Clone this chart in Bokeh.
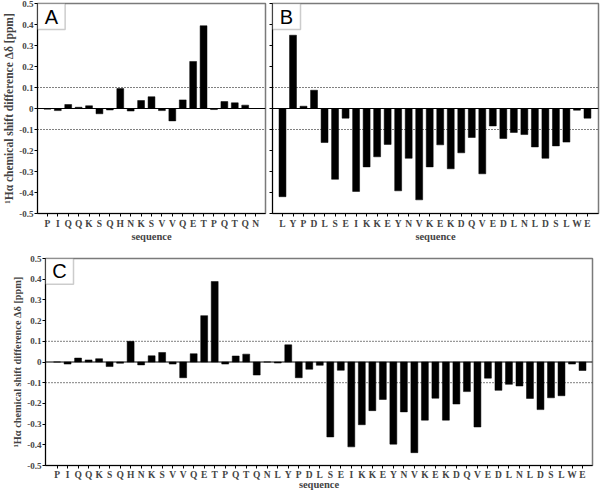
from bokeh.plotting import figure
from bokeh.layouts import column, row
from bokeh.models import (Range1d, FixedTicker, CustomJSTickFormatter, Span,
                          BoxAnnotation, Label, ColumnDataSource)
from bokeh.embed import file_html
from bokeh.resources import INLINE

# ---------------- data ----------------
seq_a = ["P", "I", "Q", "Q", "K", "S", "Q", "H", "N", "K", "S", "V", "V", "Q",
         "E", "T", "P", "Q", "T", "Q", "N"]
shift_a = [-0.003, -0.010, 0.019, 0.006, 0.013, -0.025, -0.007, 0.095, -0.012,
           0.038, 0.056, -0.010, -0.059, 0.041, 0.224, 0.394, -0.005, 0.033,
           0.027, 0.016, 0.0]

seq_b = ["L", "Y", "P", "D", "L", "S", "E", "I", "K", "K", "E", "Y", "N", "V",
         "K", "E", "K", "D", "Q", "V", "E", "D", "L", "N", "L", "D", "S", "L",
         "W", "E"]
shift_b = [-0.420, 0.349, 0.011, 0.087, -0.162, -0.337, -0.046, -0.395, -0.278,
           -0.230, -0.171, -0.392, -0.237, -0.435, -0.278, -0.173, -0.287,
           -0.211, -0.138, -0.311, -0.083, -0.143, -0.114, -0.124, -0.183,
           -0.237, -0.178, -0.160, -0.008, -0.046]

seq_c = seq_a + seq_b
shift_c = [0.0, -0.010, 0.019, 0.010, 0.016, -0.022, -0.006, 0.100, -0.014,
           0.030, 0.046, -0.010, -0.076, 0.040, 0.224, 0.389, -0.010, 0.029,
           0.038, -0.063, 0.0,
           -0.005, 0.083, -0.076, -0.035, -0.016, -0.362, -0.040, -0.410,
           -0.303, -0.235, -0.181, -0.397, -0.241, -0.438, -0.281, -0.175,
           -0.281, -0.203, -0.143, -0.314, -0.078, -0.137, -0.108, -0.116,
           -0.176, -0.230, -0.173, -0.163, -0.010, -0.041]

y_ticks = [-0.5, -0.4, -0.3, -0.2, -0.1, 0.0, 0.1, 0.2, 0.3, 0.4, 0.5]
threshold = 0.1
panel_letters = ["A", "B", "C"]
y_label = "\u00b9H\u03b1 chemical shift difference \u0394\u03b4 [ppm]"
x_label = "sequence"

SERIF = "Liberation Serif"
SANS = "Liberation Sans"


def make_panel(seq, vals, letter, width, height, borders, x_pad, show_ylabels,
               frame_w, frame_h, ylabel_size, xlab_standoff=-1, xtick_standoff=2):
    n = len(seq)
    x0, x1 = -x_pad[0], n - 1 + x_pad[1]
    p = figure(width=width, height=height, output_backend="svg",
               toolbar_location=None, x_range=Range1d(x0, x1),
               y_range=Range1d(-0.5, 0.5))
    p.min_border_left, p.min_border_right, p.min_border_top, p.min_border_bottom = borders
    p.xgrid.visible = False
    p.ygrid.visible = False
    p.outline_line_color = "#7a7a7a"
    p.outline_line_width = 1.5
    p.background_fill_color = "white"
    p.border_fill_color = "white"

    src = ColumnDataSource(dict(x=list(range(n)), v=vals))
    p.vbar(x="x", top="v", bottom=0, width=0.66, source=src,
           fill_color="black", line_color="black", line_width=0.5)

    p.add_layout(Span(location=0, dimension="width", line_color="black",
                      line_width=1.2))
    for loc in (threshold, -threshold):
        p.add_layout(Span(location=loc, dimension="width", line_color="black",
                          line_width=1, line_dash="1 2"))

    # x axis
    xa = p.xaxis[0]
    xa.ticker = FixedTicker(ticks=list(range(n)))
    xa.major_label_overrides = {i: s for i, s in enumerate(seq)}
    xa.major_label_text_font = SERIF
    xa.major_label_text_font_style = "bold"
    xa.major_label_text_font_size = "9.5px"
    xa.major_label_standoff = xtick_standoff
    xa.major_tick_out = 3
    xa.major_tick_in = 0
    xa.minor_tick_line_color = None
    xa.axis_line_color = "black"
    xa.axis_label = x_label
    xa.axis_label_text_font = SERIF
    xa.axis_label_text_font_style = "bold"
    xa.axis_label_text_font_size = "10.5px"
    xa.axis_label_standoff = xlab_standoff

    # y axis
    ya = p.yaxis[0]
    ya.ticker = FixedTicker(ticks=y_ticks)
    ya.major_tick_out = 3
    ya.major_tick_in = 0
    ya.minor_tick_line_color = None
    ya.axis_line_color = "black"
    if show_ylabels:
        ya.formatter = CustomJSTickFormatter(
            code="return Math.abs(tick) < 1e-9 ? '0' : tick.toFixed(1);")
        ya.major_label_text_font = SERIF
        ya.major_label_text_font_style = "bold"
        ya.major_label_text_font_size = "9px"
        ya.major_label_standoff = 1
        ya.axis_label = y_label
        ya.axis_label_text_font = SERIF
        ya.axis_label_text_font_style = "bold"
        ya.axis_label_text_font_size = ylabel_size
        ya.axis_label_standoff = 1
    else:
        # ticks only, no labels (as in the reference panel B)
        ya.formatter = CustomJSTickFormatter(code="return '';")
        ya.major_label_text_color = None
        ya.major_label_text_font_size = "1px"
        ya.major_label_standoff = 0

    # letter box in the top-left corner
    ux = (x1 - x0) / frame_w
    uy = 1.0 / frame_h
    bw, bh = 28 * ux, 26 * uy
    p.add_layout(BoxAnnotation(left=x0, right=x0 + bw, top=0.5, bottom=0.5 - bh,
                               fill_color="white", fill_alpha=1.0,
                               line_color="#555555", line_width=1.5))
    p.add_layout(Label(x=x0 + bw / 2, y=0.5 - bh / 2, text=letter,
                       text_font=SANS, text_font_size="20px",
                       text_align="center", text_baseline="middle",
                       text_color="black"))
    return p


pA = make_panel(seq_a, shift_a, panel_letters[0], 268, 248, (34, 3, 3, 35),
                (0.95, 0.95), True, 231, 210, "11.5px")
pB = make_panel(seq_b, shift_b, panel_letters[1], 332, 248, (4, 2, 3, 35),
                (0.95, 1.05), False, 326, 210, "11.5px")
pC = make_panel(seq_c, shift_c, panel_letters[2], 600, 244, (45, 8, 10, 25),
                (1.1, 0.95), True, 547, 210, "10.3px",
                xlab_standoff=-4, xtick_standoff=1)

layout = column(row(pA, pB), pC)
open("out.html", "w").write(file_html(layout, INLINE))
